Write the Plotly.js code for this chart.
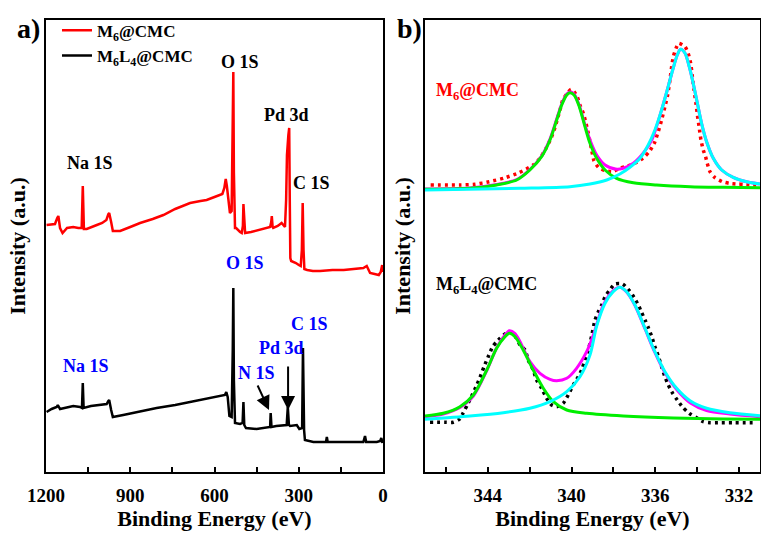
<!DOCTYPE html>
<html>
<head>
<meta charset="utf-8">
<script src="https://cdn.plot.ly/plotly-3.0.1.min.js"></script>
<style>html,body{margin:0;padding:0;background:#fff;}#chart{width:761px;height:540px;}</style>
</head>
<body>
<div id="chart"></div>
<script>
// ---------- Panel a) XPS survey ----------
const seriesNames = ['M<sub>6</sub>@CMC', 'M<sub>6</sub>L<sub>4</sub>@CMC'];

const surveyEV_M6 = [1198,1180,1168,1160,1156,1150,1141,1125,1103,1085,1073,1069,1065,1055,1040,1019,1000,985,978,975,968,962,950,936,900,865,820,782,740,687,650,628,600,572,565,560,556,548,545,539,535,533,531,527,523,515,509,503,499,497,494,491,470,438,415,402,398,396,393,391,375,361,352,349,345,342,337,334,332,330,327,310,300,293,289,286,283,280,270,250,224,180,140,106,70,58,52,46,30,15,8,3,1];
const surveyI_M6 = [247,248,248,254,256,244,239,244,245,244,244,286,243,243,245,247,249,252,258,259,250,241,241,241,245,249,253,257,263,269,271,272,275,278,284,293,286,267,259,261,330,400,300,244,244,241,240,239,246,268,246,239,240,242,244,245,250,256,245,244,246,249,246,245,272,317,337,344,272,214,211,209,207,206,222,269,222,203,202,201,201,202,202,203,204,206,202,199,198,197,200,207,200];

const surveyEV_M6L4 = [1198,1180,1162,1158,1150,1103,1079,1072,1069,1066,1040,1008,984,978,975,968,962,925,860,806,740,687,620,563,558,553,547,539,535,533,531,527,509,500,497,494,488,450,402,400,397,380,343,339,335,331,307,298,288,285,281,278,248,203,200,197,153,70,64,60,22,10,6,2];
const surveyI_M6L4 = [60,63,65,67,63,66,65,64,89,64,66,67,68,71,72,62,55,57,61,64,67,70,74,77,80,75,56,55,122,184,92,49,48,49,70,47,44,43,45,59,45,46,47,65,47,46,47,43,44,124,42,32,30,30,35,30,30,30,36,30,30,31,34,29];

const surveyTicks = [1200, 900, 600, 300, 0];

// peak labels: [text, eV, intensity]
const labelsM6 = [['O 1S',509,410],['Pd 3d',342,357],['Na 1S',1043,309],['C 1S',253,289]];
const labelsM6L4 = [['O 1S',491,209],['C 1S',260,148],['Pd 3d',363,124],['N 1S',452,99],['Na 1S',1058,106]];
// arrows: [head eV, head intensity, tail eV, tail intensity]
const arrowsM6L4 = [[406,62,449,88],[338,62,338,107]];

// ---------- Panel b) Pd 3d high resolution ----------
const pdTicks = [344, 340, 336, 332];

const m6DotEV = [346.73,345.33,344.61,343.93,343.21,342.51,341.83,341.51,341.22,340.98,340.83,340.68,340.55,340.42,340.23,340.03,339.88,339.73,339.60,339.44,339.31,339.20,339.04,338.93,338.72,338.40,338.04,337.69,337.34,336.97,336.60,336.29,336.05,335.86,335.70,335.54,335.41,335.30,335.22,335.14,335.01,334.88,334.58,334.43,334.31,334.23,334.15,334.06,333.99,333.91,333.82,333.71,333.60,333.52,333.39,333.15,332.80,332.47,332.11,331.77,331.40,331.08];
const m6DotI = [287,287,287.7,290.3,294,299.3,307,313.7,323.7,333.7,342,352.7,362,372,378,382.7,380.3,375.3,367,358.7,348.7,338.7,322,311.3,304.7,301.3,300.3,303.7,306,308.7,313.7,320.3,328.7,340.3,352,365.3,377,392,405.3,415.3,423.7,428.7,425.3,418.7,408.7,395.3,382,368.7,357,345.3,332,322,315.3,308.7,300.3,294.3,290.3,288.7,288,287.7,287,287];
const m6GreenEV = [347,344.85,343.58,342.62,341.99,341.43,341.03,340.71,340.47,340.23,340.08,339.88,339.63,339.36,339.12,338.80,338.40,337.85,337.05,335.94,334.34,332.75,331];
const m6GreenI = [282.7,283.7,287,292,302,315.3,332,352,367,377,379.3,377,365.3,345.3,328.7,313.7,302,293.7,289.3,287,285.3,284.7,284.3];
const m6CyanEV = [347,342.46,340.08,339.12,338.32,337.69,337.21,336.73,336.34,336.02,335.70,335.43,335.17,334.95,334.79,334.58,334.38,334.19,333.99,333.79,333.55,333.23,332.83,332.28,331.64,331];
const m6CyanI = [282,283.7,285.3,288,292,298,304.7,313.7,327,342,362,382,402,417,422.7,418.7,405.3,388.7,368.7,348.7,330.3,313.7,302,294.7,290.3,288];
const m6EnvEV = [347,344.85,343.58,342.62,341.99,341.43,341.03,340.71,340.47,340.23,340.08,339.88,339.63,339.36,339.12,338.80,338.40,337.85,337.53,337.05,336.58,336.17,335.70,335.43,335.17,334.95,334.79,334.58,334.38,334.19,333.99,333.79,333.55,333.23,332.83,332.28,331.64,331];
const m6EnvI = [283,284,287.5,292.5,302.5,316,333,353,368,378,380,378,366.5,347,332,317,307,302.7,303.7,308.7,318.7,332,362,382,402,417,422.7,418.7,405.3,388.7,368.7,348.7,330.3,313.7,302,294.7,290.3,288];

const l4DotEV = [346.76,346.04,345.65,345.36,345.17,344.98,344.77,344.56,344.37,344.18,343.98,343.77,343.50,343.18,342.94,342.70,342.46,342.22,342.07,341.83,341.67,341.43,341.19,340.95,340.71,340.40,340.16,339.92,339.68,339.52,339.36,339.20,339.04,338.88,338.72,338.56,338.40,338.20,337.93,337.56,337.24,337.02,336.81,336.65,336.49,336.34,336.17,336.02,335.86,335.70,335.54,335.38,335.17,334.95,334.69,334.38,334.06,333.71,333.39,333.00,332.20,331.16];
const l4DotI = [49.7,49.7,49.7,52.7,59.3,67,76,85.3,94.7,105.3,115.3,125.3,132,138,140,136,127,122,112,102,92,83.7,73.7,67,65.3,68.7,77,87,95.3,102,112,122,136,152,160.3,167,175.3,181.3,188,188,181.3,174.7,167,159.3,152,144.7,135.3,125.3,116,105.3,95.3,87,78.7,72,64.7,58.7,54.7,50.3,49.3,49.3,49.3,49.3];
const l4GreenEV = [347,346.13,345.33,344.69,344.05,343.58,343.18,342.97,342.70,342.31,341.83,341.35,340.87,340.23,339.28,337.53,335.14,332.75,331];
const l4GreenI = [56,58.7,65.3,77,102,123.7,135.3,138.7,135.3,122,102,83.7,70.3,62,58.7,56,54,53,52.7];
const l4CyanEV = [347,344.85,343.26,341.99,341.03,340.23,339.60,339.12,338.80,338.40,338.01,337.69,337.37,336.97,336.49,336.02,335.54,334.98,334.34,333.55,332.44,331];
const l4CyanI = [52.7,56,59.3,63.7,70.3,80.3,95.3,117,146,168.7,180.3,184.7,180.3,167,143.7,120.3,100.3,83.7,71.3,63.7,59.3,56.3];
const l4EnvEV = [347,346.13,345.33,344.69,344.05,343.58,343.18,342.97,342.70,342.46,341.99,341.51,341.03,340.71,340.23,339.76,339.28,338.96,338.48,338.01,337.69,337.37,336.97,336.49,336.02,335.54,334.98,334.34,333.55,332.44,331];
const l4EnvI = [55.3,58,64.5,76,101.5,124,137,141.3,138.5,130.3,110.3,98.7,92.7,91.3,93.7,103.7,120.3,137,167,181.3,184.7,180,166.5,143,119.5,99.3,82.5,69.3,61.5,58,55.3];

// ---------- styling ----------
const FONT = 'Liberation Serif, Times New Roman, serif';
const RED = '#ff0000', BLACK = '#000000', BLUE = '#0000ff';
const GREEN = '#00ee00', CYAN = '#00ffff', MAGENTA = '#ff00ff';

function fitLine(x, y, color, xa, ya) {
  return {x: x, y: y, xaxis: xa, yaxis: ya, type: 'scatter', mode: 'lines',
    line: {color: color, width: 3, shape: 'spline', smoothing: 0.8}, showlegend: false, hoverinfo: 'skip'};
}
function dotLine(x, y, color) {
  return {x: x, y: y, xaxis: 'x2', yaxis: 'y2', type: 'scatter', mode: 'lines',
    line: {color: color, width: 3.5, dash: '3px,4px', shape: 'spline', smoothing: 0.6}, showlegend: false, hoverinfo: 'skip'};
}

const traces = [
  {x: surveyEV_M6, y: surveyI_M6, type: 'scatter', mode: 'lines', name: seriesNames[0],
   line: {color: RED, width: 2.5}, legendgroup: 'a', xaxis: 'x', yaxis: 'y'},
  {x: surveyEV_M6L4, y: surveyI_M6L4, type: 'scatter', mode: 'lines', name: seriesNames[1],
   line: {color: BLACK, width: 2.5}, legendgroup: 'b', xaxis: 'x', yaxis: 'y'},
  dotLine(m6DotEV, m6DotI, RED),
  fitLine(m6EnvEV, m6EnvI, MAGENTA, 'x2', 'y2'),
  fitLine(m6GreenEV, m6GreenI, GREEN, 'x2', 'y2'),
  fitLine(m6CyanEV, m6CyanI, CYAN, 'x2', 'y2'),
  dotLine(l4DotEV, l4DotI, BLACK),
  fitLine(l4EnvEV, l4EnvI, MAGENTA, 'x2', 'y2'),
  fitLine(l4GreenEV, l4GreenI, GREEN, 'x2', 'y2'),
  fitLine(l4CyanEV, l4CyanI, CYAN, 'x2', 'y2')
];

const annotations = [];
labelsM6.forEach(l => annotations.push({xref: 'x', yref: 'y', x: l[1], y: l[2], text: l[0], showarrow: false,
  xanchor: 'center', yanchor: 'middle',
  font: {family: FONT, size: 18, color: BLACK, weight: 'bold'}}));
labelsM6L4.forEach(l => annotations.push({xref: 'x', yref: 'y', x: l[1], y: l[2], text: l[0], showarrow: false,
  xanchor: 'center', yanchor: 'middle',
  font: {family: FONT, size: 18, color: BLUE, weight: 'bold'}}));
arrowsM6L4.forEach(a => annotations.push({xref: 'x', yref: 'y', x: a[0], y: a[1], axref: 'x', ayref: 'y', ax: a[2], ay: a[3],
  text: '', showarrow: true, arrowhead: 2, arrowsize: 1.4, arrowwidth: 2, arrowcolor: BLACK}));
annotations.push({xref: 'x2', yref: 'y2', x: 346.55, y: 381, text: seriesNames[0], xanchor: 'left', yanchor: 'middle', showarrow: false,
  font: {family: FONT, size: 18, color: RED, weight: 'bold'}});
annotations.push({xref: 'x2', yref: 'y2', x: 346.55, y: 187, text: seriesNames[1], xanchor: 'left', yanchor: 'middle', showarrow: false,
  font: {family: FONT, size: 18, color: BLACK, weight: 'bold'}});
annotations.push({xref: 'paper', yref: 'paper', x: -0.024, y: 0.982, text: 'a)', showarrow: false,
  xanchor: 'center', yanchor: 'middle', font: {family: FONT, size: 28, color: BLACK, weight: 'bold'}});
annotations.push({xref: 'paper', yref: 'paper', x: 0.5098, y: 0.982, text: 'b)', showarrow: false,
  xanchor: 'center', yanchor: 'middle', font: {family: FONT, size: 28, color: BLACK, weight: 'bold'}});

const tickFont = {family: FONT, size: 19, color: BLACK, weight: 'bold'};
const titleFont = {family: FONT, size: 22, color: BLACK, weight: 'bold'};

const commonX = {showline: true, linewidth: 2, linecolor: BLACK, mirror: true, ticks: 'inside', ticklen: 5, tickwidth: 2,
  tickcolor: BLACK, showgrid: false, zeroline: false, tickfont: tickFont, ticklabelstandoff: 5};
const commonY = {showline: true, linewidth: 2, linecolor: BLACK, mirror: true, ticks: '', showticklabels: false,
  showgrid: false, zeroline: false, range: [0, 452]};

const layout = {
  width: 761, height: 540,
  margin: {l: 46, r: 1, t: 20, b: 68},
  paper_bgcolor: '#ffffff', plot_bgcolor: '#ffffff',
  showlegend: true,
  legend: {x: 0.0154, y: 1.016, xanchor: 'left', yanchor: 'top', bgcolor: 'rgba(0,0,0,0)', borderwidth: 0,
    font: {family: FONT, size: 17, color: BLACK, weight: 'bold'}, tracegroupgap: 0, itemwidth: 30},
  xaxis: Object.assign({}, commonX, {domain: [0, 0.472], range: [1200, 0], anchor: 'y',
    tickvals: surveyTicks, minor: {dtick: 150, tick0: 0, ticks: 'inside', ticklen: 5, tickwidth: 2, tickcolor: BLACK},
    title: {text: 'Binding Energy (eV)', font: titleFont, standoff: 6}}),
  yaxis: Object.assign({}, commonY, {anchor: 'x', title: {text: 'Intensity (a.u.)', font: titleFont, standoff: 12}}),
  xaxis2: Object.assign({}, commonX, {domain: [0.5308, 1], range: [347, 331], anchor: 'y2',
    tickvals: pdTicks, minor: {dtick: 2, tick0: 332, ticks: 'inside', ticklen: 5, tickwidth: 2, tickcolor: BLACK},
    title: {text: 'Binding Energy (eV)', font: titleFont, standoff: 6}}),
  yaxis2: Object.assign({}, commonY, {anchor: 'x2', title: {text: 'Intensity (a.u.)', font: titleFont, standoff: 6}}),
  annotations: annotations
};

Plotly.newPlot('chart', traces, layout, {staticPlot: true, displayModeBar: false});
</script>
</body>
</html>
